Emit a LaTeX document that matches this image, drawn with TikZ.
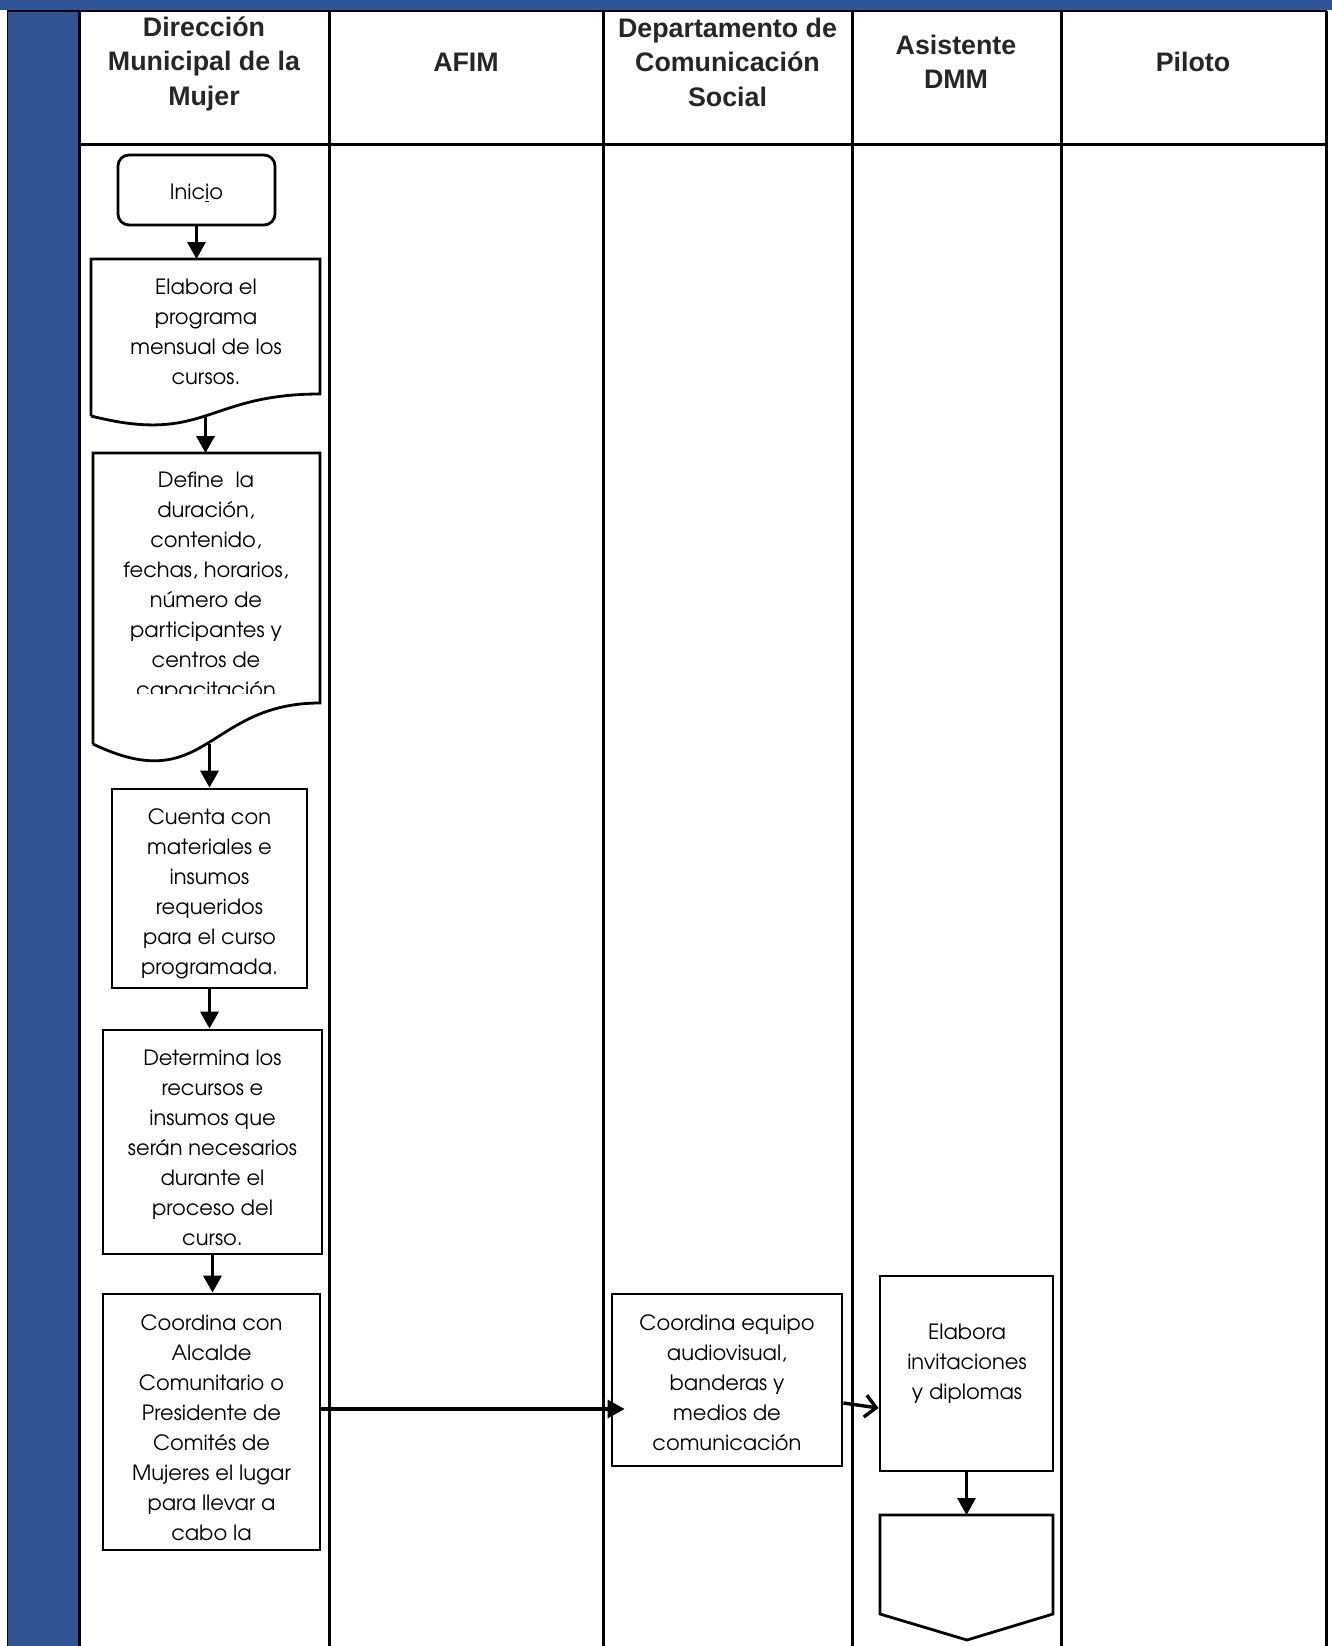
\documentclass[tikz,border=0pt]{standalone}
\usepackage{fontspec}
\setmainfont{Liberation Sans}
\newfontfamily\gothic{TeX Gyre Adventor}
\usetikzlibrary{arrows.meta,calc}
\definecolor{hdrblue}{RGB}{47,85,151}
\begin{document}
\begin{tikzpicture}[x=1pt,y=-1pt,
  lane/.style={line width=3pt},
  hdr/.style={font=\bfseries\fontsize{26.8}{34.5}\selectfont, align=center, text=black!85, inner sep=0pt},
  body/.style={font=\gothic\fontsize{21}{30}\selectfont, align=center, inner sep=0pt},
  shp/.style={draw, line width=2.8pt},
  ghost/.style={inner sep=0pt, outer sep=0pt},
  flow/.style={line width=3.4pt, -{Triangle[length=17pt,width=18pt]}},
  open/.style={line width=3.4pt, -{Straight Barb[length=11pt,width=22pt]}}
]
\useasboundingbox (0,0) rectangle (1332,1646);
% frame and lanes
\fill[hdrblue] (0,0) rectangle (1332,10);
\fill[hdrblue] (7.5,10) rectangle (78,1646);
\draw[line width=1.3pt] (7.5,10) -- (7.5,1646);
\draw[line width=2.2pt] (7,11) -- (1327,11);
\draw[lane] (79,11) -- (79,1646);
\draw[lane] (79,144) -- (1327,144);
\foreach \xx in {329,603,852,1061,1326} \draw[lane] (\xx,11) -- (\xx,1646);
% headers
\node[hdr] (h1) at (204,63.5) {Dirección\\Municipal de la\\Mujer};
\node[hdr] (h2) at (466,62) {AFIM};
\node[hdr] (h3) at (727.5,62) {Departamento de\\Comunicación\\Social};
\node[hdr] (h4) at (956,62) {Asistente\\DMM};
\node[hdr] (h5) at (1193,62) {Piloto};
% Inicio
\node[shp, rounded corners=11pt, minimum width=157pt, minimum height=70pt] (ini) at (196.5,190) {};
\node[body] (t0) at (196.5,193) {Inic\underline{i}o};
% document 1
\node[ghost, minimum width=229pt, minimum height=157pt] (d1) at (205.5,337.5) {};
\draw[line width=2.8pt] (91,416) -- (91,259) -- (320,259) -- (320,394)
  .. controls (205.5,394) and (205.5,445) .. (91,416);
\node[body] (t1) at (206,331.5) {Elabora el\\programa\\mensual de los\\cursos.};
% document 2
\node[ghost, minimum width=227pt, minimum height=291pt] (d2) at (206.5,598.5) {};
\draw[line width=2.8pt] (93,744) -- (93,453) -- (320,453) -- (320,703)
  .. controls (206.5,703) and (206.5,798.5) .. (93,744);
\begin{scope}
\clip (93,453) rectangle (320,693);
\node[body] (t2) at (206,587) {Define\ \ la\\duración,\\contenido,\\fechas, horarios,\\número de\\participantes y\\centros de\\capacitación};
\end{scope}
% process boxes
\node[shp, minimum width=195pt, minimum height=199pt] (b3) at (209.5,888.5) {};
\node[body] (t3) at (209.5,894) {Cuenta con\\materiales e\\insumos\\requeridos\\para el curso\\programada.};
\node[shp, minimum width=219pt, minimum height=224pt] (b4) at (212.5,1142) {};
\node[body] (t4) at (212.5,1147.5) {Determina los\\recursos e\\insumos que\\serán necesarios\\durante el\\proceso del\\curso.};
\node[shp, minimum width=217pt, minimum height=256pt] (b5) at (211.5,1422) {};
\node[body] (t5) at (211.5,1427.5) {Coordina con\\Alcalde\\Comunitario o\\Presidente de\\Comités de\\Mujeres el lugar\\para llevar a\\cabo la};
\node[shp, minimum width=230pt, minimum height=172pt] (b6) at (727,1380) {};
\node[body] (t6) at (727,1382.5) {Coordina equipo\\audiovisual,\\banderas y\\medios de\\comunicación};
\node[shp, minimum width=173pt, minimum height=195pt] (b7) at (966.5,1373.5) {};
\node[body] (t7) at (967,1364) {Elabora\\invitaciones\\y diplomas};
% off-page connector
\node[ghost, minimum width=173pt, minimum height=125pt] (b8) at (966.5,1577.5) {};
\draw[line width=2.8pt] (880,1515) -- (1053,1515) -- (1053,1614) -- (967,1640) -- (880,1614) -- cycle;
% connectors
\draw[flow] (ini.south) -- (ini.south |- d1.north);
\draw[flow] (d1.south) -- (d1.south |- d2.north);
\draw[flow] (d2.south -| b3.north) -- (b3.north);
\draw[flow] (b3.south) -- (b3.south |- b4.north);
\draw[flow] (b4.south) -- (b4.south |- b5.north);
\draw[flow, shorten >=-14pt] ([yshift=13pt]b5.east) -- ([yshift=13pt]b5.east -| b6.west);
\draw[open] ([yshift=-23pt]b6.east) -- ([yshift=-34.5pt]b7.west);
\draw[flow] (b7.south) -- (b7.south |- b8.north);
\end{tikzpicture}
\end{document}
